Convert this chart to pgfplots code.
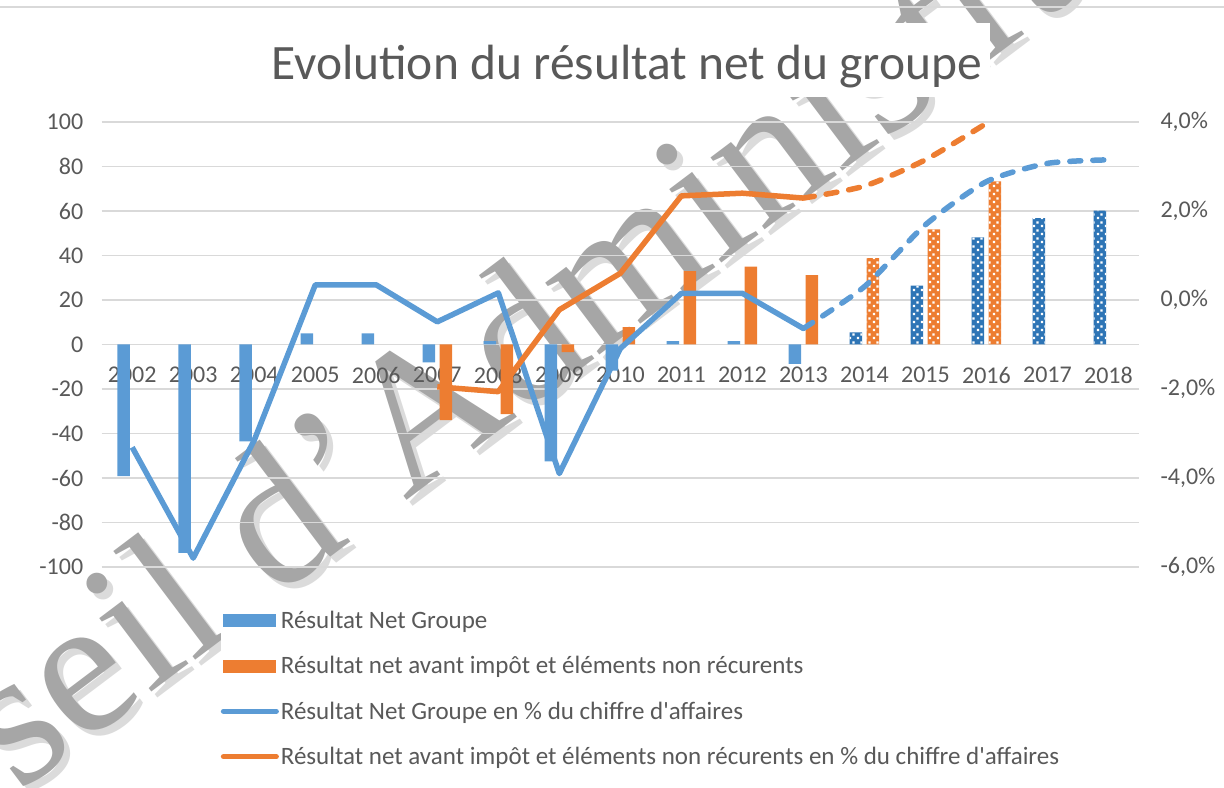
\documentclass[border=0pt]{standalone}
\usepackage{fontspec}
\setmainfont{Carlito}[Ligatures=TeXOff]
\newfontfamily\wmfont{Liberation Serif}
\usepackage{pgfplots}
\pgfplotsset{compat=1.18}
\usetikzlibrary{patterns.meta}
\definecolor{cblue}{HTML}{5B9BD5}
\definecolor{cdblue}{HTML}{2E75B6}
\definecolor{corange}{HTML}{ED7D31}
\definecolor{cgrid}{HTML}{D9D9D9}
\definecolor{ctext}{HTML}{595959}
\definecolor{cwm}{HTML}{A6A6A6}
\tikzdeclarepattern{
  name=wdots,
  type=uncolored,
  bounding box={(0bp,0bp) and (8bp,8bp)},
  tile size={(8bp,8bp)},
  code={
    \fill (1bp,1bp) rectangle (3.4bp,3.4bp);
    \fill (5bp,5bp) rectangle (7.4bp,7.4bp);
  }
}
\begin{document}
\begin{tikzpicture}
\path[use as bounding box] (-101.7bp,-221bp) rectangle (1122.3bp,567bp);
% watermark (behind the chart)
\node[rotate=37, font=\wmfont\fontsize{196bp}{196bp}\selectfont, text=cwm!40] at (419bp,226bp) {Conseil d’Administration};
\node[rotate=37, font=\wmfont\fontsize{196bp}{196bp}\selectfont, text=cwm] at (413bp,232bp) {Conseil d’Administration};
\draw[cgrid, line width=1.5bp] (-101.7bp,560bp) -- (1122.3bp,560bp);
% left axis: bars
\begin{axis}[
  at={(0bp,0bp)}, anchor=south west,
  scale only axis, width=1037.3bp, height=445bp,
  xmin=-0.5, xmax=16.5, ymin=-100, ymax=100,
  axis x line=middle, axis y line=left,
  axis line style={draw=none},
  xtick={0,1,2,3,4,5,6,7,8,9,10,11,12,13,14,15,16},
  xticklabels={2002,2003,2004,2005,2006,2007,2008,2009,2010,2011,2012,2013,2014,2015,2016,2017,2018},
  ytick={-100,-80,-60,-40,-20,0,20,40,60,80,100},
  yticklabels={-100,-80,-60,-40,-20,0,20,40,60,80,100},
  ymajorgrids, grid style={cgrid, line width=1.5bp},
  major tick length=0pt,
  tick label style={font=\fontsize{24bp}{28bp}\selectfont, text=ctext},
  xticklabel style={yshift=-19bp},
  yticklabel style={xshift=-15bp},
]
\addplot[ybar, bar width=12.5bp, bar shift=-8.5bp, fill=cblue, draw=none] coordinates {
(0,-59.2) (1,-93.6) (2,-43.5) (3,5) (4,5) (5,-8) (6,1.5) (7,-52.5) (8,-11.7) (9,1.5) (10,1.5) (11,-8.7)};
\addplot[ybar, bar width=12.5bp, bar shift=8.5bp, fill=corange, draw=none] coordinates {
(5,-34) (6,-31.3) (7,-3.4) (8,7.8) (9,33) (10,35) (11,31.2)};
\addplot[ybar, bar width=12.5bp, bar shift=-8.5bp, fill=cdblue, draw=none] coordinates {
(12,5.5) (13,26.5) (14,48.2) (15,56.8) (16,60.2)};
\addplot[ybar, bar width=12.5bp, bar shift=-8.5bp, pattern=wdots, pattern color=white, draw=none] coordinates {
(12,5.5) (13,26.5) (14,48.2) (15,56.8) (16,60.2)};
\addplot[ybar, bar width=12.5bp, bar shift=8.5bp, fill=corange, draw=none] coordinates {
(12,38.8) (13,51.7) (14,73.3)};
\addplot[ybar, bar width=12.5bp, bar shift=8.5bp, pattern=wdots, pattern color=white, draw=none] coordinates {
(12,38.8) (13,51.7) (14,73.3)};
\end{axis}
% right axis: lines
\begin{axis}[
  at={(0bp,0bp)}, anchor=south west,
  scale only axis, width=1037.3bp, height=445bp,
  xmin=-0.5, xmax=16.5, ymin=-6, ymax=4,
  axis x line=none, axis y line*=right,
  axis line style={draw=none},
  ytick={-6,-4,-2,0,2,4},
  yticklabels={{-6,0\%},{-4,0\%},{-2,0\%},{0,0\%},{2,0\%},{4,0\%}},
  major tick length=0pt,
  tick label style={font=\fontsize{24bp}{28bp}\selectfont, text=ctext},
  yticklabel style={xshift=18bp},
  legend style={at={(0.1147,0)}, anchor=north west, yshift=-32bp,
    draw=none, fill=white, inner xsep=0pt, inner ysep=10bp,
    font=\fontsize{25bp}{29bp}\selectfont, text=ctext, row sep=22.5bp},
  legend cell align=left,
]
\addlegendimage{legend image code/.code={\fill[cblue] (2bp,-6bp) rectangle (54bp,6bp);}}
\addlegendentry{Résultat Net Groupe}
\addlegendimage{legend image code/.code={\fill[corange] (2bp,-6bp) rectangle (54bp,6bp);}}
\addlegendentry{Résultat net avant impôt et éléments non récurents}
\addplot[cblue, line width=5.5bp, line join=round,
  legend image code/.code={\draw[line width=5bp, line cap=round] (2.5bp,0bp) -- (55.5bp,0bp);}]
 coordinates {(0,-3.31) (1,-5.80) (2,-3.15) (3,0.34) (4,0.34) (5,-0.49) (6,0.16) (7,-3.90) (8,-1.09) (9,0.15) (10,0.15) (11,-0.64)};
\addlegendentry{Résultat Net Groupe en \% du chiffre d'affaires}
\addplot[corange, line width=5.5bp, line join=round,
  legend image code/.code={\draw[line width=5bp, line cap=round] (2.5bp,0bp) -- (55.5bp,0bp);}]
 coordinates {(5,-1.95) (6,-2.06) (7,-0.22) (8,0.60) (9,2.34) (10,2.40) (11,2.29)};
\addlegendentry{Résultat net avant impôt et éléments non récurents en \% du chiffre d'affaires}
\addplot[forget plot, cblue, line width=5.5bp, line cap=round, dash pattern=on 11bp off 12bp, smooth, tension=0.4]
 coordinates {(11,-0.64) (12,0.30) (13,1.69) (14,2.66) (15,3.07) (16,3.15)};
\addplot[forget plot, corange, line width=5.5bp, line cap=round, dash pattern=on 11bp off 12bp, smooth, tension=0.4]
 coordinates {(11,2.29) (12,2.56) (13,3.15) (14,3.97)};
\end{axis}
\node[font=\fontsize{49.5bp}{56bp}\selectfont, text=ctext, anchor=base, fill=white,
  inner xsep=8bp, inner ysep=4bp, text height=53bp, text depth=13bp] at (525bp,487bp) {Evolution du résultat net du groupe};
\end{tikzpicture}
\end{document}
